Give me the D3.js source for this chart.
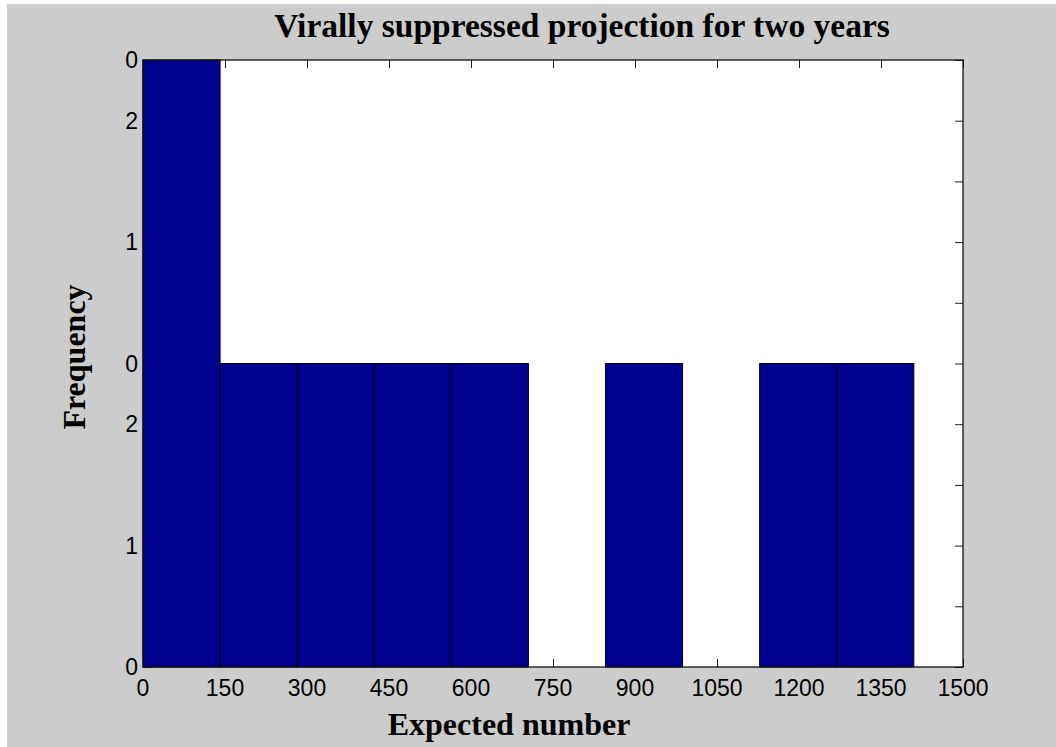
<!doctype html>
<html lang="en">
<head>
  <meta charset="UTF-8">
  <title>Virally suppressed projection</title>
  <script src="https://d3js.org/d3.v7.min.js"></script>
  <style>
    body { margin: 0; background: #fff; }
  </style>
</head>
<body>
  <div id="myDiv"></div>
  <script type="text/javascript">
    // histogram bins (lower edge, upper edge) and counts
    var binStarts = [0, 141, 282, 423, 564, 705, 846, 987, 1128, 1269];
    var binEnds   = [141, 282, 423, 564, 705, 846, 987, 1128, 1269, 1410];
    var counts    = [2, 1, 1, 1, 1, 0, 1, 0, 1, 1];

    // tick values and the (odd) labels printed beside them
    var xTicks = [0, 150, 300, 450, 600, 750, 900, 1050, 1200, 1350, 1500];
    var yTicks = [0, 0.2, 0.4, 0.6, 0.8, 1, 1.2, 1.4, 1.6, 1.8, 2];
    var yTickLabels = ["0", "", "1", "", "2", "0", "", "1", "", "2", "0"];

    var width = 1056, height = 747;
    var plotL = 143, plotR = 963, plotT = 60, plotB = 667;

    var xScale = d3.scaleLinear().domain([0, 1500]).range([plotL, plotR]);
    var yScale = d3.scaleLinear().domain([0, 2]).range([plotB, plotT]);

    var svg = d3.select("#myDiv").append("svg")
      .attr("width", width)
      .attr("height", height);

    // grey figure background
    svg.append("rect")
      .attr("x", 7).attr("y", 4)
      .attr("width", width - 7).attr("height", height - 4)
      .attr("fill", "#cccccc");

    // white axes area
    svg.append("rect")
      .attr("x", plotL).attr("y", plotT)
      .attr("width", plotR - plotL).attr("height", plotB - plotT)
      .attr("fill", "#ffffff");

    // inward ticks on all four sides (drawn below the bars)
    var xAxisBottom = d3.axisBottom(xScale).tickValues(xTicks).tickSize(-8).tickFormat("");
    var xAxisTop = d3.axisTop(xScale).tickValues(xTicks).tickSize(-8).tickFormat("");
    var yAxisLeft = d3.axisLeft(yScale).tickValues(yTicks).tickSize(-8).tickFormat("");
    var yAxisRight = d3.axisRight(yScale).tickValues(yTicks).tickSize(-8).tickFormat("");

    var axes = [
      [xAxisBottom, "translate(0," + plotB + ")"],
      [xAxisTop, "translate(0," + plotT + ")"],
      [yAxisLeft, "translate(" + plotL + ",0)"],
      [yAxisRight, "translate(" + plotR + ",0)"]
    ];
    axes.forEach(function(a) {
      var g = svg.append("g").attr("transform", a[1]).call(a[0]);
      g.select(".domain").remove();
      g.selectAll("line").attr("stroke", "#222").attr("stroke-width", 1);
    });

    // bars
    var bins = counts.map(function(c, i) {
      return { x0: binStarts[i], x1: binEnds[i], n: c };
    });
    svg.selectAll("rect.bar")
      .data(bins.filter(function(d) { return d.n > 0; }))
      .enter()
      .append("rect")
        .attr("class", "bar")
        .attr("x", function(d) { return xScale(d.x0); })
        .attr("y", function(d) { return yScale(d.n); })
        .attr("width", function(d) { return xScale(d.x1) - xScale(d.x0); })
        .attr("height", function(d) { return yScale(0) - yScale(d.n); })
        .attr("fill", "#000090")
        .attr("stroke", "#000")
        .attr("stroke-width", 1);

    // axes frame
    svg.append("rect")
      .attr("x", plotL).attr("y", plotT)
      .attr("width", plotR - plotL).attr("height", plotB - plotT)
      .attr("fill", "none")
      .attr("stroke", "#111")
      .attr("stroke-width", 1.3);

    // tick labels
    svg.selectAll("text.xt")
      .data(xTicks)
      .enter()
      .append("text")
        .attr("class", "xt")
        .attr("x", function(d) { return xScale(d); })
        .attr("y", 696)
        .attr("text-anchor", "middle")
        .style("font-family", "'Liberation Sans', Arial, sans-serif")
        .style("font-size", "23px")
        .text(function(d) { return d; });

    svg.selectAll("text.yt")
      .data(yTicks)
      .enter()
      .append("text")
        .attr("class", "yt")
        .attr("x", 138)
        .attr("y", function(d) { return yScale(d); })
        .attr("dy", "0.35em")
        .attr("text-anchor", "end")
        .style("font-family", "'Liberation Sans', Arial, sans-serif")
        .style("font-size", "23px")
        .text(function(d, i) { return yTickLabels[i]; });

    // title and axis labels
    var serif = "'Liberation Serif', 'Times New Roman', serif";
    svg.append("text")
      .attr("x", 582).attr("y", 37)
      .attr("text-anchor", "middle")
      .style("font-family", serif)
      .style("font-weight", "bold")
      .style("font-size", "33.5px")
      .text("Virally suppressed projection for two years");

    svg.append("text")
      .attr("x", 509).attr("y", 735)
      .attr("text-anchor", "middle")
      .style("font-family", serif)
      .style("font-weight", "bold")
      .style("font-size", "32px")
      .text("Expected number");

    svg.append("text")
      .attr("transform", "translate(85,357) rotate(-90)")
      .attr("text-anchor", "middle")
      .style("font-family", serif)
      .style("font-weight", "bold")
      .style("font-size", "32px")
      .text("Frequency");
  </script>
</body>
</html>
